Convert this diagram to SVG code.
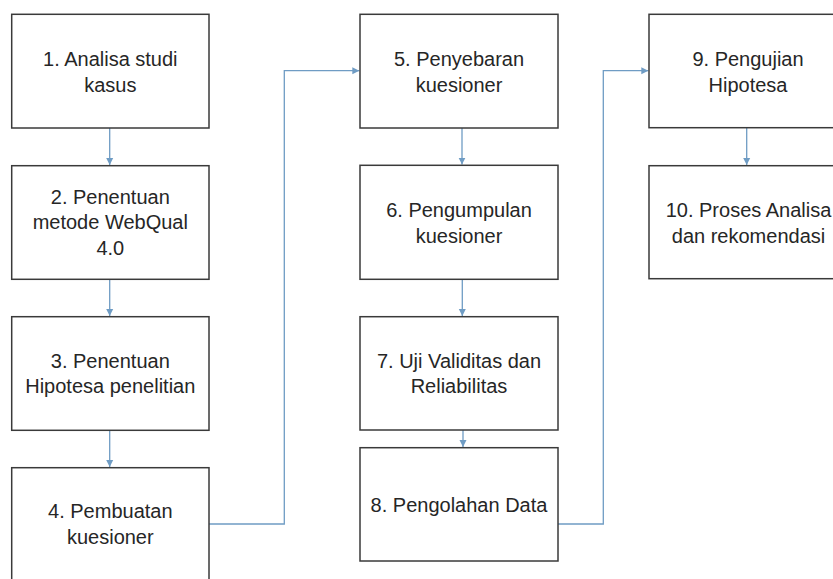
<svg xmlns="http://www.w3.org/2000/svg" width="833" height="579" viewBox="0 0 833 579">
<defs>
<style>
.box{fill:#ffffff;stroke:#3a3a3a;stroke-width:1.5}
.lbl{font-family:"Liberation Sans",Arial,sans-serif;font-size:20px;fill:#262626;text-anchor:middle}
.conn{fill:none;stroke:#6f9cc4;stroke-width:1.3}
</style>
<marker id="ah" markerUnits="userSpaceOnUse" markerWidth="8" markerHeight="8" refX="7" refY="4" orient="auto">
<path d="M0,0.5 L7,4 L0,7.5 z" fill="#6f9cc4"/>
</marker>
</defs>
<rect width="833" height="579" fill="#ffffff"/>
<g id="connectors">
<line class="conn" x1="109.7" y1="128" x2="109.7" y2="165" marker-end="url(#ah)"/>
<line class="conn" x1="109.7" y1="279.3" x2="109.7" y2="316" marker-end="url(#ah)"/>
<line class="conn" x1="109.7" y1="430.3" x2="109.7" y2="467" marker-end="url(#ah)"/>
<path class="conn" d="M209 524 H284.3 V70.7 H359.3" marker-end="url(#ah)"/>
<line class="conn" x1="462" y1="128" x2="462" y2="164.6" marker-end="url(#ah)"/>
<line class="conn" x1="462.3" y1="279.3" x2="462.3" y2="316" marker-end="url(#ah)"/>
<line class="conn" x1="463" y1="430" x2="463" y2="447" marker-end="url(#ah)"/>
<path class="conn" d="M558 524 H603.3 V70.7 H648.3" marker-end="url(#ah)"/>
<line class="conn" x1="746.7" y1="127.7" x2="746.7" y2="165" marker-end="url(#ah)"/>
</g>
<g id="n1"><rect class="box" x="11.7" y="14.3" width="197.3" height="113.7"/>
<text class="lbl" x="110.3"><tspan x="110.3" y="66">1. Analisa studi</tspan><tspan x="110.3" y="91.5">kasus</tspan></text></g>
<g id="n2"><rect class="box" x="11.7" y="165.7" width="197.3" height="113.6"/>
<text class="lbl"><tspan x="110.3" y="203.5">2. Penentuan</tspan><tspan x="110.3" y="229.3">metode WebQual</tspan><tspan x="110.3" y="255">4.0</tspan></text></g>
<g id="n3"><rect class="box" x="11.7" y="316.7" width="197.3" height="113.6"/>
<text class="lbl"><tspan x="110.3" y="367.5">3. Penentuan</tspan><tspan x="110.3" y="393.3">Hipotesa penelitian</tspan></text></g>
<g id="n4"><rect class="box" x="11.7" y="467.7" width="197.3" height="113"/>
<text class="lbl"><tspan x="110.3" y="518.3">4. Pembuatan</tspan><tspan x="110.3" y="544">kuesioner</tspan></text></g>
<g id="n5"><rect class="box" x="360" y="14.3" width="198" height="113.7"/>
<text class="lbl"><tspan x="459" y="66">5. Penyebaran</tspan><tspan x="459" y="91.5">kuesioner</tspan></text></g>
<g id="n6"><rect class="box" x="360" y="165.3" width="198" height="114"/>
<text class="lbl"><tspan x="459" y="217.3">6. Pengumpulan</tspan><tspan x="459" y="243">kuesioner</tspan></text></g>
<g id="n7"><rect class="box" x="360" y="316.7" width="198" height="113.3"/>
<text class="lbl"><tspan x="459" y="367.5">7. Uji Validitas dan</tspan><tspan x="459" y="393.3">Reliabilitas</tspan></text></g>
<g id="n8"><rect class="box" x="360" y="447.7" width="198" height="113.3"/>
<text class="lbl" x="459" y="511.5">8. Pengolahan Data</text></g>
<g id="n9"><rect class="box" x="649" y="14.3" width="197" height="113.4"/>
<text class="lbl"><tspan x="748" y="66">9. Pengujian</tspan><tspan x="748" y="91.5">Hipotesa</tspan></text></g>
<g id="n10"><rect class="box" x="649" y="165.7" width="197" height="113"/>
<text class="lbl"><tspan x="748.5" y="217.3">10. Proses Analisa</tspan><tspan x="748.5" y="243">dan rekomendasi</tspan></text></g>
</svg>
